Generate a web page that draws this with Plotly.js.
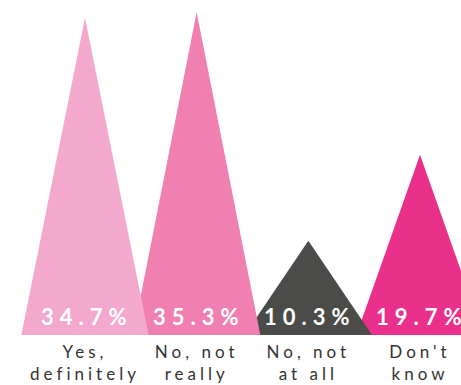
<!DOCTYPE html>
<html>
<head>
<meta charset="utf-8">
<script src="https://cdn.plot.ly/plotly-3.0.1.min.js"></script>
<style>
  html, body { margin: 0; padding: 0; background: #ffffff; }
  #chart { width: 461px; height: 385px; }
  .xtick text { letter-spacing: 4px; }
  .annotation-text { letter-spacing: 6px; }
</style>
</head>
<body>
<div id="chart"></div>
<script>
// Data
var categories = ["Yes,<br>definitely", "No, not<br>really", "No, not<br>at all", "Don't<br>know"];
var percentages = [34.7, 35.3, 10.3, 19.7];
var colors = ["#F3A9CD", "#EF80B1", "#4B4B49", "#E9308B"];

var halfWidth = 0.57;
var traces = [];
// draw from last to first so that earlier triangles sit on top
for (var i = categories.length - 1; i >= 0; i--) {
  traces.push({
    type: "scatter",
    mode: "lines",
    x: [i - halfWidth, i, i + halfWidth, i - halfWidth],
    y: [0, percentages[i], 0, 0],
    fill: "toself",
    fillcolor: colors[i],
    line: { width: 0, color: colors[i] },
    hoverinfo: "skip",
    showlegend: false
  });
}

var annotations = percentages.map(function (v, i) {
  return {
    x: i, y: 0, xref: "x", yref: "y",
    text: v.toFixed(1) + "%",
    showarrow: false,
    yanchor: "middle", xanchor: "center",
    yshift: 19, xshift: 2,
    font: { family: "Lato, 'Open Sans', sans-serif", size: 22, color: "#ffffff", weight: "bold" }
  };
});

var layout = {
  width: 461, height: 385,
  margin: { l: 0, r: 0, t: 0, b: 50, pad: 0 },
  paper_bgcolor: "#ffffff",
  plot_bgcolor: "#ffffff",
  xaxis: {
    range: [-0.761, 3.367],
    tickvals: categories.map(function (c, i) { return i; }),
    ticktext: categories,
    showgrid: false, zeroline: false, showline: false,
    ticks: "", ticklen: 0,
    ticklabelstandoff: 5,
    tickfont: { family: "Lato, 'Open Sans', sans-serif", size: 17, color: "#333333" },
    fixedrange: true
  },
  yaxis: {
    range: [0, 36.63],
    visible: false,
    showgrid: false, zeroline: false,
    fixedrange: true
  },
  annotations: annotations,
  showlegend: false
};

Plotly.newPlot("chart", traces, layout, { displayModeBar: false, staticPlot: true });
</script>
</body>
</html>
